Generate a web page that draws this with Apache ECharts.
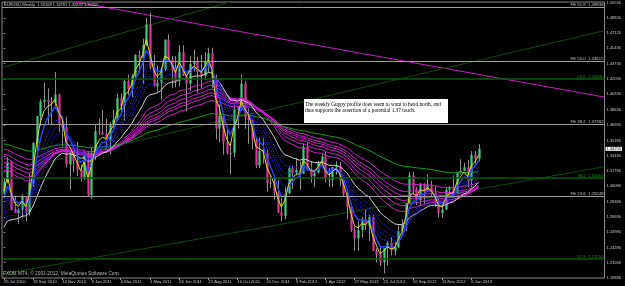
<!DOCTYPE html>
<html><head><meta charset="utf-8">
<script src="https://cdn.jsdelivr.net/npm/echarts@6/dist/echarts.min.js"></script>
<style>html,body{margin:0;padding:0;background:#000;}#c{width:625px;height:286px;}</style>
</head><body><div id="c"></div>
<script>
// ---- weekly EURUSD candles, week of 25 Jul 2010 .. 20 Jan 2013 ----
const opens = [1.2920,1.3060,1.3280,1.2750,1.2710,1.2750,1.2900,1.2720,1.3050,1.3490,1.3790,1.3950,1.3970,1.3950,1.3940,1.4030,1.3690,1.3670,1.3250,1.3400,1.3290,1.3190,1.3090,
1.3370,1.2910,1.3380,1.3620,1.3610,1.3590,1.3520,1.3700,1.3750,1.3990,1.3900,1.4180,1.4090,1.4230,1.4470,1.4430,1.4580,1.4810,1.4330,1.4120,1.4160,1.4310,1.4640,1.4420,1.4300,1.4180,1.4500,1.4240,1.4150,1.4370,1.4390,1.4280,1.4240,1.4400,1.4490,1.4210,1.3650,1.3790,1.3500,1.3380,1.3380,1.3870,1.3880,1.4150,1.3770,1.3750,1.3520,1.3240,1.3400,1.3380,1.3040,1.3050,
1.2940,1.2720,1.2680,1.2930,1.3210,1.3160,1.3190,1.3150,1.3450,1.3200,1.3120,1.3160,1.3270,1.3340,1.3090,1.3080,1.3220,1.3240,1.3080,1.2920,1.2780,1.2520,1.2430,1.2520,1.2640,1.2570,1.2670,1.2290,1.2250,1.2160,1.2320,1.2380,1.2290,1.2330,1.2510,1.2580,1.2820,1.3130,1.2980,1.2860,1.3040,1.2950,1.3020,1.2940,1.2830,1.2710,1.2750,1.2970,1.2990,1.2930,1.3160,1.3180,1.3220,
1.3070,1.3360,1.33168];
const highs = [1.3110,1.3330,1.3290,1.2900,1.2770,1.2920,1.2900,1.3150,1.3500,1.3790,1.3980,1.4160,1.4100,1.4000,1.4280,1.4040,1.3790,1.3780,1.3400,1.3400,1.3500,1.3250,1.3400,
1.3400,1.3440,1.3690,1.3760,1.3860,1.3760,1.3720,1.3860,1.4040,1.4040,1.4200,1.4250,1.4260,1.4480,1.4520,1.4650,1.4880,1.4940,1.4470,1.4350,1.4320,1.4640,1.4700,1.4460,1.4460,1.4580,1.4580,1.4250,1.4460,1.4530,1.4450,1.4470,1.4500,1.4550,1.4550,1.4250,1.3920,1.3800,1.3670,1.3470,1.3920,1.3900,1.4250,1.4180,1.3880,1.3760,1.3550,1.3550,1.3550,1.3420,1.3120,1.3120,
1.3080,1.2880,1.3000,1.3230,1.3240,1.3320,1.3280,1.3480,1.3490,1.3290,1.3190,1.3290,1.3380,1.3390,1.3210,1.3220,1.3290,1.3280,1.3100,1.2950,1.2820,1.2560,1.2620,1.2670,1.2750,1.2690,1.2690,1.2320,1.2330,1.2320,1.2400,1.2440,1.2390,1.2590,1.2640,1.2820,1.3170,1.3170,1.3000,1.3040,1.3040,1.3140,1.3070,1.3010,1.2880,1.2790,1.2990,1.3010,1.3130,1.3160,1.3310,1.3270,1.3300,
1.3400,1.3400,1.34781];
const lows = [1.2910,1.3040,1.2740,1.2710,1.2590,1.2660,1.2620,1.2680,1.3000,1.3420,1.3680,1.3880,1.3700,1.3690,1.3900,1.3610,1.3450,1.3220,1.2970,1.3170,1.3120,1.3060,1.3080,
1.2900,1.2870,1.3300,1.3580,1.3580,1.3430,1.3360,1.3660,1.3740,1.3840,1.3740,1.4020,1.4000,1.4210,1.4270,1.4150,1.4570,1.4310,1.4120,1.4060,1.3970,1.4290,1.4400,1.4100,1.4110,1.4120,1.4240,1.3840,1.4070,1.4280,1.4050,1.4100,1.4190,1.4280,1.4100,1.3530,1.3500,1.3360,1.3360,1.3140,1.3330,1.3650,1.3850,1.3650,1.3480,1.3420,1.3210,1.3210,1.3260,1.2950,1.2990,1.2860,
1.2710,1.2620,1.2640,1.2920,1.2980,1.3140,1.2970,1.3150,1.3180,1.3050,1.3000,1.3150,1.3250,1.3050,1.3000,1.3000,1.3140,1.3010,1.2890,1.2640,1.2500,1.2290,1.2290,1.2440,1.2520,1.2400,1.2290,1.2160,1.2120,1.2040,1.2130,1.2240,1.2240,1.2320,1.2470,1.2510,1.2810,1.2930,1.2800,1.2800,1.2800,1.2950,1.2890,1.2780,1.2660,1.2660,1.2740,1.2880,1.2880,1.2920,1.3150,1.3180,1.3000,
1.3000,1.3260,1.32832];
const closes = [1.3060,1.3280,1.2750,1.2710,1.2750,1.2900,1.2720,1.3050,1.3490,1.3790,1.3950,1.3970,1.3950,1.3940,1.4030,1.3690,1.3670,1.3250,1.3400,1.3290,1.3190,1.3090,1.3370,
1.2910,1.3380,1.3620,1.3610,1.3590,1.3520,1.3700,1.3750,1.3990,1.3900,1.4180,1.4090,1.4230,1.4470,1.4430,1.4580,1.4810,1.4330,1.4120,1.4160,1.4310,1.4640,1.4420,1.4300,1.4180,1.4500,1.4240,1.4150,1.4370,1.4390,1.4280,1.4240,1.4400,1.4490,1.4210,1.3650,1.3790,1.3500,1.3380,1.3380,1.3870,1.3880,1.4150,1.3770,1.3750,1.3520,1.3240,1.3400,1.3380,1.3040,1.3050,1.2940,
1.2720,1.2680,1.2930,1.3210,1.3160,1.3190,1.3150,1.3450,1.3200,1.3120,1.3160,1.3270,1.3340,1.3090,1.3080,1.3220,1.3240,1.3080,1.2920,1.2780,1.2520,1.2430,1.2520,1.2640,1.2570,1.2670,1.2290,1.2250,1.2160,1.2320,1.2380,1.2290,1.2330,1.2510,1.2580,1.2820,1.3130,1.2980,1.2860,1.3040,1.2950,1.3020,1.2940,1.2830,1.2710,1.2750,1.2970,1.2990,1.2930,1.3160,1.3180,1.3220,1.3070,
1.3360,1.3320,1.34255];

// ---- axes ----
const totalWeeks = 165;
const dateTicks = [0,8,16,24,32,40,48,56,64,72,80,88,96,104,112,120,128];
const dateTickLabels = ['25 Jul 2010','19 Sep 2010','14 Nov 2010','9 Jan 2011','6 Mar 2011','1 May 2011','26 Jun 2011','21 Aug 2011','16 Oct 2011','11 Dec 2011','5 Feb 2012','1 Apr 2012','27 May 2012','22 Jul 2012','16 Sep 2012','11 Nov 2012','6 Jan 2013'];
const priceTicks = [1.50530,1.48830,1.47120,1.45430,1.43730,1.42030,1.40330,1.38630,1.36930,1.35180,1.33480,1.31780,1.30080,1.28380,1.26680,1.24980,1.23280,1.21580,1.19880];
const yMin = 1.1988, yMax = 1.5059;

// ---- Guppy multiple moving averages: periods and starting values read at the left edge ----
const shortPeriods = [8,10,12,15];
const shortSeeds   = [1.268,1.263,1.258,1.252];
const longPeriods  = [30,35,40,45,50,60];
const longSeeds    = [1.3190,1.3234,1.3282,1.3326,1.3375,1.3431];
const fastPeriod = 3,  fastSeed = 1.285;   // yellow
const blueSolidPeriod = 5, blueSolidSeed = 1.278;
const whitePeriod = 20, whiteSeed = 1.250;
const greenPeriod = 100, greenSeed = 1.3487;

// ---- drawn objects ----
const trendMagenta = [[19.7,1.5059],[164.5,1.4001]];
const trendGreen1 = [[-0.5,1.4328],[61.9,1.5059]];
const trendGreen2 = [[-0.5,1.3160],[164.5,1.4741]];
const trendGreen3 = [[-0.5,1.2032],[164.5,1.3227]];
const feLevels = [1.49838,1.43615,1.37392,1.29248];
const feLabels = ['FE 61.8  1.49838','FE 50.0  1.43615','FE 38.2  1.37392','FE 23.6  1.29248'];
const fibLevels = [1.41830,1.30560,1.21550];
const fibLabels = ['23.6  1.41830','38.2  1.30560','61.8  1.21550'];

function ema(period, seed){
  const a = 2/(period+1); let p = seed;
  return closes.map((c,i)=>{ p = a*c + (1-a)*p; return [i, +p.toFixed(5)]; });
}
const candleData = closes.map((c,i)=>[i, opens[i], c, lows[i], highs[i]]);

function renderCandle(params, api){
  const i = api.value(0), o = api.value(1), c = api.value(2), l = api.value(3), h = api.value(4);
  const pO = api.coord([i,o]), pC = api.coord([i,c]), pL = api.coord([i,l]), pH = api.coord([i,h]);
  const w = Math.max(api.size([1,0])[0]*0.6, 1.5);
  const x = Math.round(pO[0]) + 0.5;
  const top = Math.min(pO[1], pC[1]), bot = Math.max(pO[1], pC[1]);
  return {type:'group', children:[
    {type:'line', shape:{x1:x, y1:pH[1], x2:x, y2:pL[1]}, style:{stroke:'#8c8c8c', lineWidth:1}},
    {type:'rect', shape:{x:x-w/2, y:top, width:w, height:Math.max(bot-top,1)}, style:{fill: c>=o ? '#3fcf7f' : '#e2339a'}}
  ]};
}

function lineS(data, color, width, type, z){
  return {type:'line', data, showSymbol:false, symbol:'none', clip:true, z:z||3, silent:true,
    lineStyle:{color, width, type:type||'solid'}};
}

const series = [];
const mlData = [];
feLevels.forEach((v,k)=>mlData.push({yAxis:v, lineStyle:{color:'#9c9c9c', width:1, type:'solid'},
  label:{formatter:feLabels[k], color:'#c4c4c4'}}));
fibLevels.forEach((v,k)=>mlData.push({yAxis:v, lineStyle:{color:'#0c5a0c', width:1.5, type:'solid'},
  label:{formatter:fibLabels[k], color:'#1c9a1c'}}));
const tm = lineS(trendMagenta, '#c21fc2', 1, 'solid', 1);
tm.markLine = {symbol:'none', silent:true, animation:false, data: mlData,
  label:{position:'insideEndTop', fontSize:4.3, fontFamily:'Liberation Sans', distance:[1,0.5]}};
series.push(tm);
series.push(lineS(trendGreen1, '#0d4a0d', 1, 'solid', 1));
series.push(lineS(trendGreen2, '#0d4a0d', 1, 'solid', 1));
series.push(lineS(trendGreen3, '#0d4a0d', 1, 'solid', 1));
series.push({type:'custom', renderItem:renderCandle, data:candleData, encode:{x:0, y:[1,2,3,4]}, z:2, clip:true, silent:true});
longPeriods.forEach((p,k)=>series.push(lineS(ema(p, longSeeds[k]), '#d21ed2', 1)));
series.push(lineS(ema(greenPeriod, greenSeed), '#16a016', 1));
series.push(lineS(ema(whitePeriod, whiteSeed), '#cfcfcf', 1));
shortPeriods.forEach((p,k)=>series.push(lineS(ema(p, shortSeeds[k]), '#2b2bf0', 1, [1,1])));
series.push(lineS(ema(blueSolidPeriod, blueSolidSeed), '#2244ff', 1.5));
series.push(lineS(ema(fastPeriod, fastSeed), '#dede1a', 1));

const lastClose = closes[closes.length-1];
const chart = echarts.init(document.getElementById('c'));
chart.setOption({
  backgroundColor:'#000', animation:false,
  grid:{left:2, right:18, top:2, bottom:8, show:true, borderColor:'#8a8a8a', borderWidth:1, backgroundColor:'#000'},
  xAxis:{type:'value', min:-0.5, max:totalWeeks-0.5, splitLine:{show:false}, axisLine:{show:false},
    axisTick:{show:true, customValues:dateTicks, length:2, lineStyle:{color:'#9a9a9a'}},
    axisLabel:{customValues:dateTicks, formatter:v=>dateTickLabels[dateTicks.indexOf(v)], color:'#c8c8c8',
      fontSize:4.2, fontFamily:'Liberation Sans', align:'left', margin:1.5}},
  yAxis:[
    {type:'value', position:'right', min:yMin, max:yMax, splitLine:{show:false}, axisLine:{show:false},
     axisTick:{show:true, customValues:priceTicks, length:1.5, lineStyle:{color:'#9a9a9a'}},
     axisLabel:{customValues:priceTicks, formatter:v=>v.toFixed(5), color:'#c8c8c8', fontSize:4, fontFamily:'Liberation Sans', margin:2}},
    {type:'value', position:'right', min:yMin, max:yMax, splitLine:{show:false}, axisLine:{show:false}, axisTick:{show:false},
     axisLabel:{customValues:[lastClose], formatter:v=>v.toFixed(5), color:'#000', backgroundColor:'#ffffff',
       padding:[0,1,0,1], fontSize:4, fontFamily:'Liberation Sans', margin:1}}
  ],
  series,
  graphic:[
    {type:'text', left:4, top:3, z:10, style:{text:'EURUSD,Weekly  1.33168 1.34781 1.32832 1.34255', fill:'#d0d0d0', font:'4px "Liberation Sans"'}},
    {type:'text', left:3, top:271, z:10, style:{text:'FXDM MT4, © 2001-2012, MetaQuotes Software Corp.', fill:'#b8b8b8', font:'4.8px "Liberation Sans"'}},
    {type:'rect', left:304, top:99, z:10, shape:{width:144, height:24}, style:{fill:'#ffffff'}},
    {type:'text', left:305, top:101, z:11, style:{text:'The weekly Guppy profile does seem to want to head north, and\nthus supports the assertion of a potential 1.37 touch.', fill:'#000', font:'5.3px "Liberation Serif"', lineHeight:6.5}}
  ]
});
</script></body></html>
